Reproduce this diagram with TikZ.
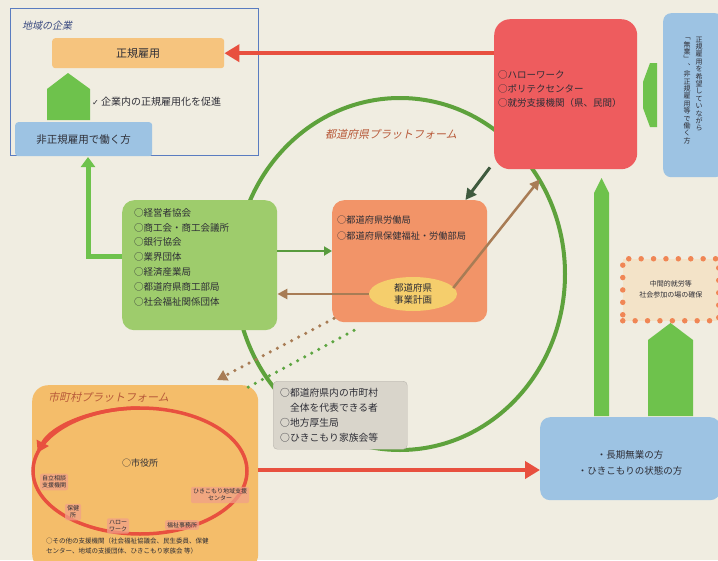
\documentclass[tikz,border=0pt]{standalone}
\usepackage{fontspec}
\setmainfont{Noto Sans CJK JP}
\newfontfamily\cjkit{Noto Sans CJK JP}[FakeSlant=0.22]
\newfontfamily\dejavu{DejaVu Sans}
\usetikzlibrary{arrows.meta,calc,shapes.geometric}
\definecolor{paper}{HTML}{F0EDE1}
\definecolor{framec}{HTML}{5A7CC0}
\definecolor{barc}{HTML}{F6C47E}
\definecolor{redbox}{HTML}{EE5C5E}
\definecolor{bluebox}{HTML}{9DC3E3}
\definecolor{greenbox}{HTML}{9ECC6C}
\definecolor{greenarr}{HTML}{6EC24C}
\definecolor{ringc}{HTML}{5EA23C}
\definecolor{orangebox}{HTML}{F29468}
\definecolor{yellowell}{HTML}{F5CE6C}
\definecolor{graybox}{HTML}{D9D5CB}
\definecolor{cityc}{HTML}{F4BD6A}
\definecolor{cycc}{HTML}{E8503F}
\definecolor{pinkc}{HTML}{F0A088}
\definecolor{brownc}{HTML}{A87C55}
\definecolor{darkc}{HTML}{3F5A3E}
\definecolor{textc}{HTML}{2E2E36}
\definecolor{titlec}{HTML}{B85A3A}
\definecolor{navyc}{HTML}{3A4A80}
\definecolor{dotc}{HTML}{F08655}
\definecolor{dotfill}{HTML}{F3E3C8}
\begin{document}
\begin{tikzpicture}[x=1pt,y=-1pt,
  box/.style={rounded corners=#1, inner sep=0pt, anchor=north west},
  box/.default=10pt,
  txt/.style={font=\fontsize{9.5}{14.5}\selectfont, align=left, anchor=north west, inner sep=0pt, text=textc},
  ctxt/.style={align=center, inner sep=0pt, text=textc},
  redarrow/.style={draw=cycc, line width=4pt, -{Triangle[length=15pt,width=17pt]}},
  brownarrow/.style={draw=brownc, line width=2.5pt, -{Triangle[length=10pt,width=10pt]}},
  darkarrow/.style={draw=darkc, line width=3pt, -{Triangle[length=11pt,width=11pt]}},
  greenline/.style={draw=greenarr, line width=5pt},
  dotline/.style={line width=3.5pt, line cap=round, dash pattern=on 0pt off 8pt},
  bigdots/.style={line width=5.5pt, line cap=round, dash pattern=on 0pt off 12.4pt},
  pinkbox/.style={fill=pinkc, fill opacity=0.75, text opacity=1, inner sep=2pt, rounded corners=2pt, align=center, font=\fontsize{6}{7}\selectfont, text=textc}
]
\useasboundingbox (0,0) rectangle (718,560);
\fill[paper] (0,0) rectangle (718,560);

% big prefectural ring
\draw[ringc, line width=4pt] (400,274) ellipse [x radius=165, y radius=176];

% top-left frame
\node[draw=framec, line width=1pt, minimum width=248, minimum height=147, anchor=north west, inner sep=0pt] (firm) at (10,8) {};
\node[font=\cjkit\fontsize{10}{10}\selectfont, text=navyc, anchor=west, inner sep=0pt] (firmt) at (22,26) {地域の企業};
\node[box=3pt, fill=barc, minimum width=172, minimum height=30] (regular) at (52,38) {};
\node[ctxt, font=\fontsize{11}{11}\selectfont] (regt) at (regular.center) {正規雇用};
\fill[greenarr] (47,120) -- (47,89) -- (68,73) -- (90,89) -- (90,120) -- cycle;
\node[anchor=west, inner sep=0pt, font=\fontsize{10}{10}\selectfont, text=textc] (promote) at (92,102) {{\dejavu\fontsize{8}{8}\selectfont ✓} 企業内の正規雇用化を促進};
\node[box=3pt, fill=bluebox, minimum width=137, minimum height=34] (nonreg) at (15,122) {};
\node[ctxt, font=\fontsize{10.5}{10.5}\selectfont] (nonregt) at (nonreg.center) {非正規雇用で働く方};

% red box (Hello Work)
\node[box=16pt, fill=redbox, minimum width=143, minimum height=150] (hw) at (494,19) {};
\node[txt, font=\fontsize{9.5}{14}\selectfont] (hwt) at (498,70) {○ハローワーク\\○ポリテクセンター\\○就労支援機関（県、民間）};

% right vertical blue box
\node[box=8pt, fill=bluebox, minimum width=60, minimum height=164] (target) at (663,13) {};
\node[ctxt, font=\fontsize{7}{7.4}\selectfont] (vt1) at (699,84) {正\\規\\雇\\用\\を\\希\\望\\し\\て\\い\\な\\が\\ら};
\node[ctxt, font=\fontsize{7}{7.4}\selectfont] (vt2) at (687,91) {﹁\\無\\業\\﹂\\︑\\非\\正\\規\\雇\\用\\等\\で\\働\\く\\方};
\fill[greenarr] (650,63) -- (657,63) -- (657,127) -- (650,127) -- (643,108) -- (643,82) -- cycle;

% prefectural platform label
\node[anchor=west, inner sep=0pt, font=\cjkit\fontsize{11}{11}\selectfont, text=titlec] (preft) at (325,134) {都道府県プラットフォーム};

% green box
\node[box=12pt, fill=greenbox, minimum width=155, minimum height=130] (econ) at (122,200) {};
\node[txt, font=\fontsize{9.5}{14.8}\selectfont] (econt) at (134,208) {○経営者協会\\○商工会・商工会議所\\○銀行協会\\○業界団体\\○経済産業局\\○都道府県商工部局\\○社会福祉関係団体};

% orange box
\node[box=12pt, fill=orangebox, minimum width=155, minimum height=122] (labor) at (332,200) {};
\node[txt, font=\fontsize{9.2}{16}\selectfont] (labort) at (337,216) {○都道府県労働局\\○都道府県保健福祉・労働部局};
\node[ellipse, fill=yellowell, minimum width=88, minimum height=34, inner sep=0pt, ctxt, font=\fontsize{9.5}{12.5}\selectfont] (plan) at (413,294) {都道府県\\事業計画};

% gray box
\node[box=4pt, fill=graybox, draw=graybox!85!black, minimum width=134, minimum height=68] (muni) at (273,381) {};
\node[txt, font=\fontsize{9.8}{15}\selectfont] (munit) at (280,388) {○都道府県内の市町村\\\hspace{1em}全体を代表できる者\\○地方厚生局\\○ひきこもり家族会等};

% city platform
\node[box=16pt, fill=cityc, minimum width=226, minimum height=185] (city) at (32,385) {};
\node[anchor=west, inner sep=0pt, font=\cjkit\fontsize{11}{11}\selectfont, text=titlec] (cityt) at (48,397) {市町村プラットフォーム};
\coordinate (cyc) at (140,471);
\draw[cycc, line width=3.5pt] (cyc) ellipse [x radius=107, y radius=63];
\draw[cycc, line width=3.5pt, -{Triangle[length=11pt,width=13pt]}] (140,408) arc [start angle=270, end angle=197, x radius=107, y radius=63];
\node[ctxt, font=\fontsize{9}{9}\selectfont] (cityhall) at (140,463) {○市役所};
\node[pinkbox] (c1) at (54,482) {自立相談\\支援機関};
\node[pinkbox] (c2) at (220,495) {ひきこもり地域支援\\センター};
\node[pinkbox] (c3) at (73,512) {保健\\所};
\node[pinkbox] (c4) at (118,526) {ハロー\\ワーク};
\node[pinkbox] (c5) at (182,525) {福祉事務所};
\node[txt, font=\fontsize{6.5}{10}\selectfont] (cityt2) at (46,538) {○その他の支援機関（社会福祉協議会、民生委員、保健\\センター、地域の支援団体、ひきこもり家族会 等）};

% bottom-right blue box
\node[box=10pt, fill=bluebox, minimum width=180, minimum height=83] (person) at (540,417) {};
\node[ctxt, font=\fontsize{9.5}{16}\selectfont] (persont) at (630,463) {・長期無業の方\\・ひきこもりの状態の方};

% dotted box
\node[draw=dotc, fill=dotfill, bigdots, minimum width=96, minimum height=62, anchor=north west, inner sep=0pt] (inter) at (620,256) {};
\node[ctxt, font=\fontsize{7}{11}\selectfont] (intert) at (inter.center) {中間的就労等\\社会参加の場の確保};

% block arrows up
\fill[greenarr] (594,416) -- (594,193) -- (601.5,178) -- (609,193) -- (609,416) -- cycle;
\fill[greenarr] (648,416) -- (648,340) -- (670.5,323) -- (693,340) -- (693,416) -- cycle;

% connectors
\draw[redarrow] (hw.west |- regular.east) -- (regular.east);
\draw[redarrow] (city.east |- 0,470) -- (person.west |- 0,470);
\draw[darkarrow] ($(hw.south west)+(-4,-2)$) -- ($(labor.north east)+(-22,0)$);
\draw[brownarrow] (plan.east) ++(-4,-6) -- ($(hw.south)+(-26,10)$);
\draw[brownarrow] (plan.west) -- (econ.east |- plan.west);
\draw[draw=greenarr!80!black, line width=2.5pt, -{Triangle[length=8pt,width=9pt]}] (econ.east |- 0,251) -- (labor.west |- 0,251);
\draw[greenline, -{Triangle[length=10pt,width=14pt]}] (econ.west |- 0,256) -- (88,256) -- (88,157);
\draw[dotline, draw=brownc, -{Triangle[length=10pt,width=11pt]}] (labor.south west) ++(2,-4) -- (217,380);
\draw[dotline, draw=greenarr!85!black] ($(labor.south west)+(22,8)$) -- (243,390);
\end{tikzpicture}
\end{document}
